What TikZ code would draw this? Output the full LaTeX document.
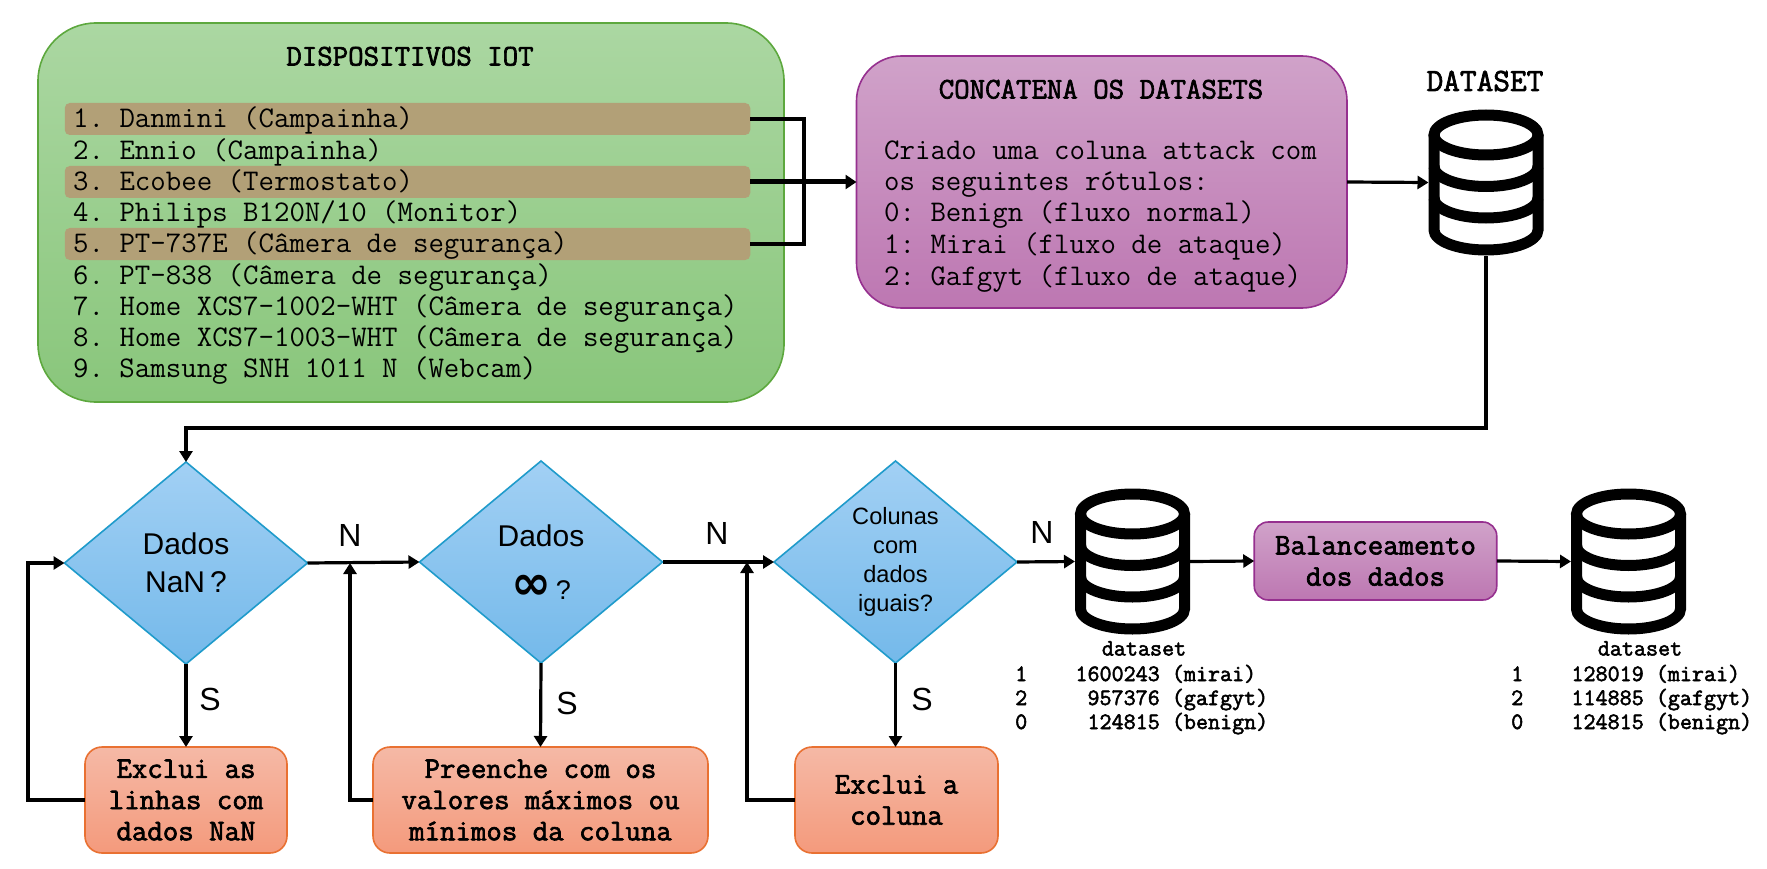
\documentclass[tikz,border=0pt]{standalone}
\usepackage{fontspec}
\setmainfont{Liberation Sans}
\setmonofont{Latin Modern Mono}
\newfontfamily\djv{DejaVu Sans}
\newfontfamily\mbf[FakeBold=2.2]{Latin Modern Mono}
\usetikzlibrary{shapes.geometric,arrows.meta}
\definecolor{gTop}{HTML}{ABD7A2}
\definecolor{gBot}{HTML}{89C67B}
\definecolor{gLine}{HTML}{5DA83E}
\definecolor{pTop}{HTML}{D0A2C9}
\definecolor{pBot}{HTML}{BD77B2}
\definecolor{pLine}{HTML}{96308F}
\definecolor{bTop}{HTML}{A2D0F4}
\definecolor{bBot}{HTML}{74B9EA}
\definecolor{bLine}{HTML}{1F9BCB}
\definecolor{oTop}{HTML}{F5B9A6}
\definecolor{oBot}{HTML}{F49A7C}
\definecolor{oLine}{HTML}{E97132}
\definecolor{tanbar}{HTML}{B2A077}
\newcommand{\mtxt}{\ttfamily\fontsize{30}{31.2}\selectfont}
\newcommand{\mbtxt}{\mbf\fontsize{30}{31.2}\selectfont}
\newcommand{\dtxt}{\mbf\fontsize{23.4}{24}\selectfont}
\tikzset{
  x=1pt,y=-1pt,
  panel/.style={rectangle,draw,line width=1.6pt,inner sep=0pt,outer sep=0pt},
  greenbox/.style={panel,rounded corners=58pt,draw=gLine,top color=gTop,bottom color=gBot,minimum width=746pt,minimum height=379pt},
  purplebox/.style={panel,rounded corners=45pt,draw=pLine,top color=pTop,bottom color=pBot,minimum width=490.5pt,minimum height=252pt},
  balbox/.style={panel,rounded corners=14pt,draw=pLine,top color=pTop,bottom color=pBot,minimum width=242.5pt,minimum height=78pt,align=center,font=\mbtxt},
  orangebox/.style={panel,rounded corners=17pt,draw=oLine,top color=oTop,bottom color=oBot,minimum height=106pt,align=center,font=\mbtxt},
  tanrow/.style={rectangle,rounded corners=5pt,fill=tanbar,minimum width=685.5pt,minimum height=32pt,inner sep=0pt,outer sep=0pt},
  decision/.style={diamond,draw=bLine,line width=1.6pt,top color=bTop,bottom color=bBot,aspect=1.2,minimum width=243pt,minimum height=202pt,inner sep=0pt,outer sep=0pt,align=center},
  listrow/.style={anchor=base west,inner sep=0pt,font=\mtxt},
  titletxt/.style={anchor=base,inner sep=0pt,font=\mbtxt},
  datarow/.style={anchor=base west,inner sep=0pt,font=\dtxt},
  yn/.style={inner sep=0pt,font=\fontsize{32}{32}\selectfont},
  dbslot/.style={rectangle,minimum width=115pt,minimum height=147pt,inner sep=0pt,outer sep=0pt},
  flow/.style={line width=3.2pt,-{Triangle[length=11pt,width=13pt]}},
  back/.style={line width=4.2pt,-{Triangle[length=11pt,width=13pt]}},
  plain/.style={line width=4pt},
  dbicon/.pic={
    \draw[line width=11pt] (0,-47.5) ellipse [x radius=52,y radius=20];
    \draw[line width=11pt] (-52,-47.5) -- (-52,47.5) arc [start angle=180,end angle=360,x radius=52,y radius=-20] -- (52,-47.5);
    \draw[line width=11pt] (-52,-16) arc [start angle=180,end angle=360,x radius=52,y radius=-20];
    \draw[line width=11pt] (-52,15.5) arc [start angle=180,end angle=360,x radius=52,y radius=-20];
  }
}
\begin{document}
\begin{tikzpicture}
\path[use as bounding box,fill=white] (0,0) rectangle (1767,869);

% IoT panel
\node[greenbox] (iot) at (411,212.5) {};
\node[titletxt] (iottitle) at (410,65.5) {DISPOSITIVOS IOT};
\node[tanrow] (t1) at (407.5,119) {};
\node[tanrow] (t3) at (407.5,182) {};
\node[tanrow] (t5) at (407.5,244) {};
\node[listrow] (l1) at (73,128) {1. Danmini (Campainha)};
\node[listrow] (l2) at (73,159.2) {2. Ennio (Campainha)};
\node[listrow] (l3) at (73,190.4) {3. Ecobee (Termostato)};
\node[listrow] (l4) at (73,221.6) {4. Philips B120N/10 (Monitor)};
\node[listrow] (l5) at (73,252.8) {5. PT-737E (Câmera de segurança)};
\node[listrow] (l6) at (73,284) {6. PT-838 (Câmera de segurança)};
\node[listrow] (l7) at (73,315.2) {7. Home XCS7-1002-WHT (Câmera de segurança)};
\node[listrow] (l8) at (73,346.4) {8. Home XCS7-1003-WHT (Câmera de segurança)};
\node[listrow] (l9) at (73,377.6) {9. Samsung SNH 1011 N (Webcam)};

% Concatenate panel
\node[purplebox] (conc) at (1101.75,182) {};
\node[titletxt] (conctitle) at (1101,98.5) {CONCATENA OS DATASETS};
\node[listrow] (c1) at (884,160) {Criado uma coluna attack com};
\node[listrow] (c2) at (884,191) {os seguintes rótulos:};
\node[listrow] (c3) at (884,222) {0: Benign (fluxo normal)};
\node[listrow] (c4) at (884,253.5) {1: Mirai (fluxo de ataque)};
\node[listrow] (c5) at (884,285) {2: Gafgyt (fluxo de ataque)};

% Databases
\node[dbslot] (db1) at (1486,182.5) {};
\pic at (db1) {dbicon};
\node[titletxt,font=\mbf\fontsize{32.4}{32}\selectfont] (dbtitle) at (1485,91) {DATASET};
\node[dbslot] (db2) at (1132.5,561.5) {};
\pic at (db2) {dbicon};
\node[dbslot] (db3) at (1628.5,561.5) {};
\pic at (db3) {dbicon};

% Decisions
\node[decision,font=\fontsize{30}{38}\selectfont] (d1) at (186,563) {Dados\\NaN\,?};
\node[decision,font=\fontsize{30}{38}\selectfont] (d2) at (541,562) {Dados\\[15pt]{\djv\bfseries\fontsize{48}{40}\selectfont ∞}\,{\fontsize{27}{24}\selectfont ?}};
\node[decision,font=\fontsize{23.6}{29}\selectfont] (d3) at (895.5,562) {Colunas\\com\\dados\\iguais?};

% Actions
\node[orangebox,minimum width=202pt] (o1) at (186,800) {Exclui as\\linhas com\\dados NaN};
\node[orangebox,minimum width=335pt] (o2) at (540.5,800) {Preenche com os\\valores máximos ou\\mínimos da coluna};
\node[orangebox,minimum width=203pt] (o3) at (896.5,800) {Exclui a\\coluna};
\node[balbox] (bal) at (1375.5,561) {Balanceamento\\dos dados};

% Data tables
\node[anchor=base,inner sep=0pt,font=\dtxt] (ds1) at (1144,655.5) {dataset};
\node[datarow] (a1) at (1015,681) {1~~~~1600243 (mirai)};
\node[datarow] (a2) at (1015,705) {2~~~~~957376 (gafgyt)};
\node[datarow] (a3) at (1015,729) {0~~~~~124815 (benign)};
\node[anchor=base,inner sep=0pt,font=\dtxt] (ds2) at (1640,655.5) {dataset};
\node[datarow] (b1) at (1511,681) {1~~~~128019 (mirai)};
\node[datarow] (b2) at (1511,705) {2~~~~114885 (gafgyt)};
\node[datarow] (b3) at (1511,729) {0~~~~124815 (benign)};

% Labels
\node[yn] (n1) at (350,535) {N};
\node[yn] (n2) at (717,533) {N};
\node[yn] (n3) at (1042,532) {N};
\node[yn] (s1) at (210,699) {S};
\node[yn] (s2) at (567,703) {S};
\node[yn] (s3) at (922,699) {S};

% Junction coordinates
\coordinate (fork) at (804,182);
\coordinate (m1) at (350,563);
\coordinate (m2) at (747,562);

% Connectors
\draw[plain] (t1.east) -| (fork);
\draw[plain] (t5.east) -| (fork);
\draw[line width=5pt,-{Triangle[length=11pt,width=14pt]}] (t3.east) -- (conc.west);
\draw[flow] (conc.east) -- (db1.west);
\draw[back] (db1.south) -- ++(0,172) -| (d1.north);
\draw[flow] (d1.east) -- (d2.west);
\draw[flow] (d2.east) -- (d3.west);
\draw[flow] (d3.east) -- (db2.west);
\draw[flow] (db2.east) -- (bal.west);
\draw[flow] (bal.east) -- (db3.west);
\draw[flow] (d1.south) -- (o1.north);
\draw[flow] (d2.south) -- (o2.north);
\draw[flow] (d3.south) -- (d3.south |- o3.north);
\draw[back] (o1.west) -- ++(-57,0) |- (d1.west);
\draw[back] (o2.west) -| (m1);
\draw[back] (o3.west) -| (m2);
\end{tikzpicture}
\end{document}
